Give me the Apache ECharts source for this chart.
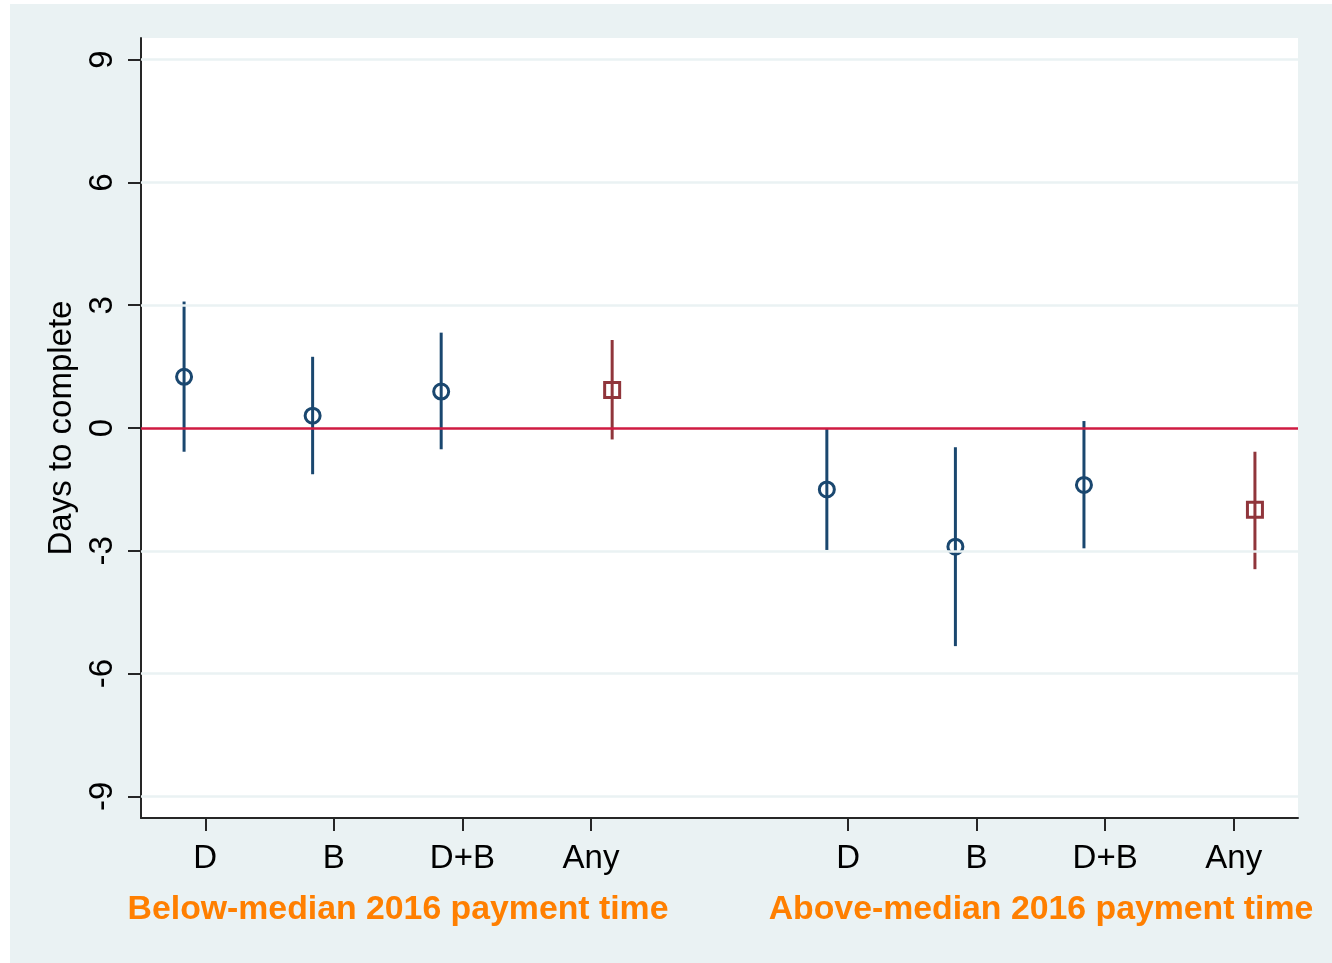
<!DOCTYPE html>
<html>
<head>
<meta charset="utf-8">
<script src="https://cdn.jsdelivr.net/npm/echarts@6/dist/echarts.min.js"></script>
<style>
  html, body { margin: 0; padding: 0; background: #ffffff; }
  #chart { width: 1332px; height: 963px; }
</style>
</head>
<body>
<div id="chart"></div>
<script>
// ---- data ----
const tickLabels = ['D', 'B', 'D+B', 'Any', 'D', 'B', 'D+B', 'Any'];
const tickPos = [1, 2, 3, 4, 6, 7, 8, 9];
const groupTitles = ['Below-median 2016 payment time', 'Above-median 2016 payment time'];
const markerX = [0.835, 1.835, 2.835, 4.165, 5.835, 6.835, 7.835, 9.165];
const estimate = [1.25, 0.30, 0.89, 0.93, -1.50, -2.90, -1.39, -2.00];
const ciLow = [-0.58, -1.13, -0.52, -0.28, -2.98, -5.33, -2.94, -3.45];
const ciHigh = [3.09, 1.74, 2.33, 2.15, 0.00, -0.47, 0.17, -0.58];
const isAny = [false, false, false, true, false, false, false, true];
const yTicks = [-9, -6, -3, 0, 3, 6, 9];
const yTitle = 'Days to complete';

const NAVY = '#1a476f', MAROON = '#90353b', BG = '#eaf2f3', ZERO = '#cf1b42', ORANGE = '#ff7f00', AXIS = '#262626';

function pick(flag) {
  const pts = [], bars = [];
  for (let i = 0; i < markerX.length; i++) {
    if (isAny[i] === flag) {
      pts.push([markerX[i], estimate[i]]);
      bars.push([markerX[i], ciLow[i], ciHigh[i]]);
    }
  }
  return { pts, bars };
}
const single = pick(false), any = pick(true);

function errRender(color) {
  return function (params, api) {
    const a = api.coord([api.value(0), api.value(1)]);
    const b = api.coord([api.value(0), api.value(2)]);
    return { type: 'line', shape: { x1: a[0], y1: a[1], x2: b[0], y2: b[1] },
             style: { stroke: color, lineWidth: 3 } };
  };
}

const chart = echarts.init(document.getElementById('chart'), null, { renderer: 'canvas' });
const fontFam = '"Liberation Sans", Arial, sans-serif';

chart.setOption({
  animation: false,
  backgroundColor: '#ffffff',
  graphic: [
    { type: 'rect', z: -10, silent: true, shape: { x: 10, y: 4, width: 1322, height: 959 }, style: { fill: BG } },
    { type: 'text', z: 10, x: 398, y: 910, style: { text: groupTitles[0], fill: ORANGE, font: 'bold 33.8px ' + fontFam, textAlign: 'center', textVerticalAlign: 'middle' } },
    { type: 'text', z: 10, x: 1041, y: 910, style: { text: groupTitles[1], fill: ORANGE, font: 'bold 33.8px ' + fontFam, textAlign: 'center', textVerticalAlign: 'middle' } }
  ],
  grid: { left: 141, right: 34, top: 38, bottom: 145, show: true, backgroundColor: '#ffffff', borderWidth: 0 },
  xAxis: {
    type: 'value', min: 0.5, max: 9.5,
    axisLine: { show: true, onZero: false, lineStyle: { color: AXIS, width: 2 } },
    axisTick: { show: true, length: 13, lineStyle: { color: AXIS, width: 2 }, customValues: tickPos },
    axisLabel: {
      customValues: tickPos, margin: 24, color: '#000', fontSize: 33, fontFamily: fontFam,
      formatter: function (v) { const i = tickPos.indexOf(Math.round(v)); return i >= 0 ? tickLabels[i] : ''; }
    },
    splitLine: { show: false }
  },
  yAxis: {
    type: 'value', min: -9.53, max: 9.53,
    name: yTitle, nameLocation: 'middle', nameGap: 54, nameRotate: 90,
    nameTextStyle: { color: '#000', fontSize: 33, fontFamily: fontFam },
    axisLine: { show: true, onZero: false, lineStyle: { color: AXIS, width: 2 } },
    axisTick: { show: true, length: 13, lineStyle: { color: AXIS, width: 2 }, customValues: yTicks },
    axisLabel: { customValues: yTicks, rotate: 90, margin: 22, color: '#000', fontSize: 33, fontFamily: fontFam,
      formatter: function (v) { return String(Math.round(v)); } },
    splitLine: { show: false }
  },
  series: [
    {
      type: 'line', data: [], silent: true, z: 1,
      markLine: {
        silent: true, symbol: 'none', label: { show: false }, animation: false,
        lineStyle: { color: BG, width: 2.5, type: 'solid' },
        data: yTicks.filter(v => v !== 0).map(v => ({ yAxis: v }))
      }
    },
    {
      type: 'line', data: [], silent: true, z: 2,
      markLine: {
        silent: true, symbol: 'none', label: { show: false }, animation: false,
        lineStyle: { color: ZERO, width: 2.5, type: 'solid' },
        data: [{ yAxis: 0 }]
      }
    },
    { type: 'custom', z: 3, renderItem: errRender(NAVY), data: single.bars, encode: { x: 0, y: [1, 2] } },
    { type: 'custom', z: 3, renderItem: errRender(MAROON), data: any.bars, encode: { x: 0, y: [1, 2] } },
    { type: 'scatter', z: 4, data: single.pts, symbol: 'circle', symbolSize: 15,
      itemStyle: { color: 'rgba(0,0,0,0)', borderColor: NAVY, borderWidth: 3, opacity: 1 } },
    { type: 'scatter', z: 4, data: any.pts, symbol: 'rect', symbolSize: 15,
      itemStyle: { color: 'rgba(0,0,0,0)', borderColor: MAROON, borderWidth: 3, opacity: 1 } }
  ]
});
</script>
</body>
</html>
